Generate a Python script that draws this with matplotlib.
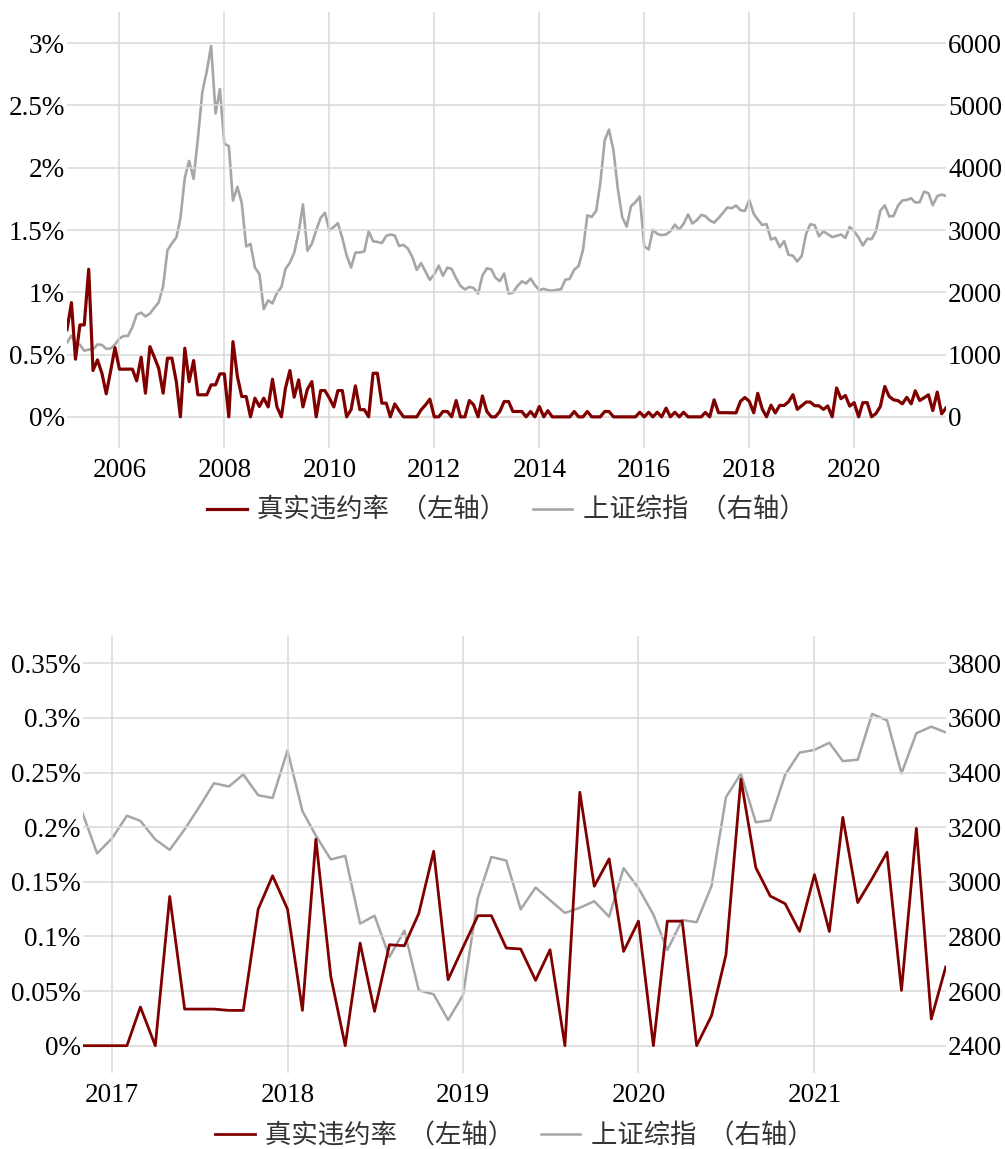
import numpy as np
import pandas as pd
import matplotlib
matplotlib.use("Agg")
import matplotlib.pyplot as plt
import matplotlib.dates as mdates
from matplotlib.ticker import FuncFormatter, MultipleLocator

# monthly data, 2005-01 .. 2021-10
default_rate = [
    0.70, 0.917, 0.463, 0.738, 0.738, 1.185, 0.372, 0.457, 0.35, 0.185, 0.37, 0.556,
    0.383, 0.383, 0.383, 0.383, 0.289, 0.479, 0.19, 0.564, 0.479, 0.39, 0.19, 0.471,
    0.471, 0.28, 0.0, 0.551, 0.283, 0.452, 0.177, 0.177, 0.177, 0.257, 0.257, 0.345,
    0.345, 0.0, 0.604, 0.323, 0.163, 0.163, 0.0, 0.15, 0.083, 0.15, 0.08, 0.302,
    0.08, 0.0, 0.23, 0.372, 0.158, 0.297, 0.08, 0.222, 0.283, 0.0, 0.211, 0.211,
    0.15, 0.08, 0.211, 0.211, 0.0, 0.058, 0.249, 0.058, 0.058, 0.0, 0.35, 0.35,
    0.11, 0.11, 0.0, 0.104, 0.05, 0.0, 0.0, 0.0, 0.0, 0.056, 0.096, 0.142,
    0.0, 0.0, 0.043, 0.043, 0.0, 0.131, 0.0, 0.0, 0.131, 0.096, 0.0, 0.168,
    0.043, 0.0, 0.0, 0.043, 0.123, 0.123, 0.043, 0.043, 0.043, 0.0, 0.043, 0.0,
    0.083, 0.0, 0.05, 0.0, 0.0, 0.0, 0.0, 0.0, 0.043, 0.0, 0.0, 0.043,
    0.0, 0.0, 0.0, 0.043, 0.043, 0.0, 0.0, 0.0, 0.0, 0.0, 0.0, 0.037,
    0.0, 0.037, 0.0, 0.037, 0.0, 0.07, 0.0, 0.037, 0.0, 0.037,
    # 2016-11 onwards
    0.0, 0.0,
    0.0, 0.0, 0.0354, 0.0, 0.1366, 0.0335, 0.0335, 0.0335, 0.0323, 0.0323, 0.125, 0.1555,
    0.125, 0.0323, 0.189, 0.0634, 0.0, 0.0939, 0.0314, 0.0924, 0.0915, 0.121, 0.178, 0.0604,
    0.090, 0.119, 0.119, 0.0894, 0.0885, 0.0598, 0.0878, 0.0, 0.232, 0.146, 0.171, 0.0863,
    0.114, 0.0, 0.114, 0.114, 0.0, 0.0275, 0.0833, 0.244, 0.163, 0.137, 0.130, 0.1046,
    0.1565, 0.1046, 0.209, 0.131, 0.153, 0.177, 0.0506, 0.199, 0.0244, 0.072,
]

sse_index = [
    1191, 1306, 1181, 1159, 1060, 1081, 1083, 1162, 1155, 1092, 1099, 1161,
    1258, 1299, 1298, 1440, 1642, 1672, 1612, 1658, 1752, 1837, 2099, 2675,
    2786, 2881, 3183, 3841, 4109, 3821, 4471, 5218, 5552, 5955, 4871, 5262,
    4383, 4348, 3473, 3693, 3433, 2736, 2776, 2397, 2293, 1729, 1871, 1821,
    1991, 2082, 2373, 2477, 2633, 2959, 3412, 2668, 2779, 2996, 3195, 3277,
    2989, 3051, 3110, 2871, 2592, 2398, 2638, 2639, 2656, 2979, 2820, 2808,
    2791, 2906, 2928, 2911, 2743, 2762, 2701, 2568, 2359, 2469, 2333, 2199,
    2292, 2428, 2263, 2397, 2373, 2225, 2103, 2047, 2086, 2069, 1980, 2269,
    2385, 2366, 2237, 2178, 2301, 1979, 1994, 2098, 2175, 2141, 2220, 2116,
    2033, 2056, 2033, 2026, 2039, 2048, 2202, 2217, 2364, 2420, 2683, 3235,
    3210, 3310, 3748, 4442, 4612, 4277, 3664, 3206, 3053, 3383, 3446, 3539,
    2738, 2688, 3004, 2938, 2917, 2930, 2979, 3085, 3005, 3100, 3250, 3104,
    3159, 3242, 3223, 3155, 3117, 3192, 3273, 3361, 3349, 3393, 3317, 3307,
    3481, 3259, 3169, 3082, 3095, 2847, 2876, 2725, 2821, 2603, 2588, 2494,
    2585, 2941, 3091, 3078, 2899, 2979, 2933, 2886, 2905, 2929, 2872, 3050,
    2977, 2880, 2750, 2860, 2852, 2985, 3310, 3396, 3218, 3225, 3392, 3473,
    3483, 3509, 3442, 3447, 3615, 3591, 3397, 3544, 3568, 3547,
]

months = pd.date_range("2005-01-01", "2021-10-01", freq="MS")
zoom_start = "2016-11-01"

label_left = "真实违约率  （左轴）"
label_right = "上证综指  （右轴）"

RED = "#800000"
GRAY = "#a6a6a6"
GRID = "#d9d9d9"
serif = ["Liberation Serif", "DejaVu Serif"]
cjk = ["Noto Sans CJK SC", "DejaVu Sans"]

df = pd.DataFrame({"rate": default_rate, "sse": sse_index}, index=months)


def pct(v, pos):
    return f"{round(v, 4):g}%"


def draw(fig, rect, data, lylim, lstep, rylim, rticks, years, lw_red, lw_gray):
    ax = fig.add_axes(rect)
    ax2 = ax.twinx()
    ax.set_zorder(ax2.get_zorder() + 1)
    ax.patch.set_visible(False)

    l2, = ax2.plot(data.index, data["sse"], color=GRAY, lw=lw_gray)
    l1, = ax.plot(data.index, data["rate"], color=RED, lw=lw_red)

    ax.set_xlim(data.index[0], data.index[-1])
    ax.set_ylim(*lylim)
    ax.yaxis.set_major_locator(MultipleLocator(lstep))
    ax.yaxis.set_major_formatter(FuncFormatter(pct))
    ax2.set_ylim(*rylim)
    ax2.set_yticks(rticks)

    ax.xaxis.set_major_locator(mdates.YearLocator(years))
    ax.xaxis.set_major_formatter(mdates.DateFormatter("%Y"))
    ax.grid(True, color=GRID, lw=1.1)
    ax.set_axisbelow(True)

    for a in (ax, ax2):
        for s in a.spines.values():
            s.set_visible(False)
    ax.tick_params(axis="both", length=0, labelsize=19.5)
    ax.tick_params(axis="y", pad=1.5)
    ax.tick_params(axis="x", pad=7)
    ax2.tick_params(axis="y", length=0, labelsize=19.5, pad=1.5)
    for t in ax.get_xticklabels() + ax.get_yticklabels() + ax2.get_yticklabels():
        t.set_family(serif)

    leg = ax.legend([l1, l2], [label_left, label_right], loc="center",
                    bbox_to_anchor=(0.5, -0.143), ncol=2, frameon=False,
                    handlelength=1.5, handletextpad=0.4, columnspacing=1.0,
                    prop={"family": cjk, "size": 19})
    for t in leg.get_texts():
        t.set_color("#333333")
    return ax


fig = plt.figure(figsize=(10.05, 11.49), dpi=100)

draw(fig, [67 / 1005, 1 - 448 / 1149, 879 / 1005, 436 / 1149], df,
     (-0.25, 3.25), 0.5, (-500, 6500), np.arange(0, 6001, 1000), 2, 2.3, 1.9)

draw(fig, [82.7 / 1005, 1 - 1073 / 1149, 863 / 1005, 437 / 1149], df.loc[zoom_start:],
     (-0.025, 0.375), 0.05, (2300, 3900), np.arange(2400, 3801, 200), 1, 2.0, 1.8)

fig.savefig("out.png", dpi=100)
